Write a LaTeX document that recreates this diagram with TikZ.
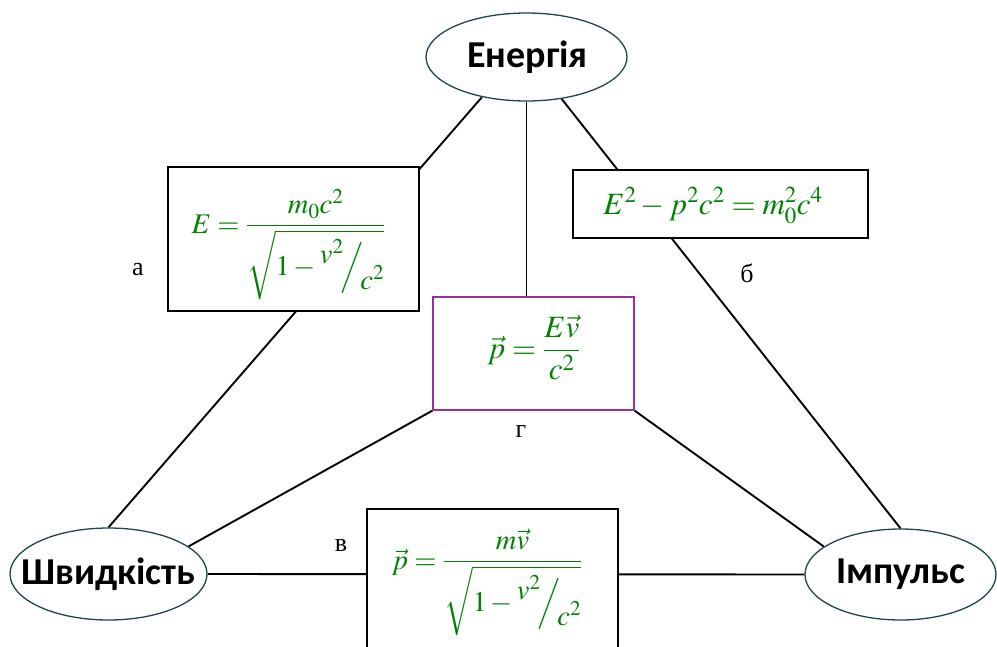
\documentclass[tikz,border=0pt]{standalone}
\usepackage{mathptmx}
\usepackage[no-math]{fontspec}
\setmainfont{Liberation Serif}
\newfontfamily\carlito{Carlito}
\usetikzlibrary{shapes.geometric}
\definecolor{fgreen}{RGB}{0,128,0}
\definecolor{elldraw}{RGB}{30,70,80}
\definecolor{boxpurple}{RGB}{150,50,150}
\newcommand\slfrac[2]{\raisebox{0.42em}{$#1$}\!\Big/\!\raisebox{-0.5em}{$#2$}}
\pgfdeclarelayer{background}
\pgfsetlayers{background,main}
\begin{document}
\begin{tikzpicture}[x=1pt,y=-1pt,
 ell/.style={ellipse, draw=elldraw, line width=1.3pt, fill=white, inner sep=0pt},
 lbl/.style={font=\carlito\bfseries\fontsize{38}{40}\selectfont, inner sep=0pt},
 fbox/.style={draw=black, line width=1.3pt, fill=white, inner sep=0pt},
 formula/.style={anchor=base, inner sep=0pt, text=fgreen, font=\fontsize{28.5}{32}\selectfont},
 bigformula/.style={formula, font=\fontsize{31}{34}\selectfont},
 conn/.style={line width=1.9pt},
 tag/.style={font=\fontsize{26}{28}\selectfont, inner sep=0pt}]
\useasboundingbox (0,0) rectangle (997,646);
% ellipses
\node[ell, minimum width=201, minimum height=88] (E) at (526.5,57) {};
\node[lbl] (Et) at (527.5,57) {Енергія};
\node[ell, minimum width=197, minimum height=92] (S) at (108.5,574) {};
\node[lbl] (St) at (S) {Швидкість};
\node[ell, minimum width=191, minimum height=91] (I) at (900.5,574.5) {};
\node[lbl] (It) at (I) {Імпульс};
% boxes
\node[fbox, minimum width=251, minimum height=144] (A) at (293.5,239) {};
\node[fbox, minimum width=295, minimum height=68] (B) at (720.5,204) {};
\node[fbox, draw=boxpurple, minimum width=201, minimum height=113] (G) at (533.5,353.5) {};
\node[fbox, minimum width=251, minimum height=151] (V) at (492.5,584.5) {};
% formulas
\node[formula] (fa) at (288.5,233) {$\displaystyle E=\frac{m_0c^2}{\sqrt{1-\slfrac{v^2}{c^2}}}$};
\node[bigformula] (fb) at (713,214) {$E^2-p^2c^2=m_0^2c^4$};
\node[bigformula] (fg) at (534,358) {$\displaystyle \vec p=\frac{E\vec v}{c^2}$};
\node[formula] (fv) at (487,569) {$\displaystyle \vec p=\frac{m\vec v}{\sqrt{1-\slfrac{v^2}{c^2}}}$};
% tags
\node[tag] (ta) at (138,270) {а};
\node[tag] (tb) at (747,273) {б};
\node[tag] (tv) at (341,546) {в};
\node[tag] (tg) at (521,432) {г};
% connectors
\begin{pgfonlayer}{background}
\draw[conn] (E.222) -- (S.north);
\draw[conn] (E.310) -- (I.north);
\draw[conn] (E.south) -- (E.south |- G.north);
\draw[conn] (G.south west) -- (S.19.5);
\draw[conn] (G.south east) -- (I.160);
\draw[conn] (S.east) -- (I.west);
\end{pgfonlayer}
\end{tikzpicture}
\end{document}
